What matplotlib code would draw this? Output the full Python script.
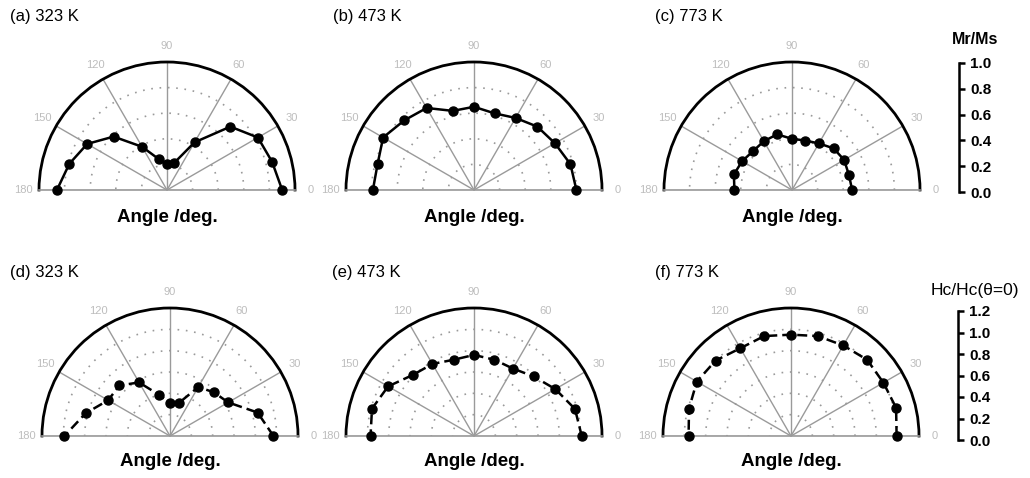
import matplotlib
matplotlib.use("Agg")
import matplotlib.pyplot as plt
import numpy as np

plt.rcParams['font.family'] = ['Liberation Sans', 'DejaVu Sans']

# angles (deg) measured every 15 degrees
angles = [0, 15, 30, 45, 60, 75, 90, 105, 120, 135, 150, 165, 180]

# Mr/Ms (top row)
mr_323 = [0.90, 0.85, 0.82, 0.70, 0.43, 0.22, 0.20, 0.25, 0.39, 0.59, 0.72, 0.79, 0.86]
mr_473 = [0.80, 0.78, 0.73, 0.70, 0.65, 0.62, 0.65, 0.64, 0.74, 0.77, 0.82, 0.78, 0.79]
mr_773 = [0.47, 0.46, 0.47, 0.46, 0.42, 0.40, 0.40, 0.45, 0.44, 0.43, 0.45, 0.47, 0.45]

# Hc/Hc(theta=0) (bottom row)
hc_323 = [0.97, 0.85, 0.63, 0.58, 0.53, 0.32, 0.31, 0.40, 0.58, 0.67, 0.67, 0.82, 0.99]
hc_473 = [1.01, 0.98, 0.88, 0.79, 0.73, 0.74, 0.76, 0.74, 0.78, 0.81, 0.93, 0.99, 0.97]
hc_773 = [0.99, 1.02, 1.00, 1.01, 0.98, 0.97, 0.95, 0.97, 0.95, 1.00, 1.02, 0.99, 0.96]

titles_top = ['(a) 323 K', '(b) 473 K', '(c) 773 K']
titles_bot = ['(d) 323 K', '(e) 473 K', '(f) 773 K']

W, H = 1030, 478
fig = plt.figure(figsize=(W / 100, H / 100), dpi=100)
R = 128
GRAY = '#9a9a9a'
LABGRAY = '#bdbdbd'


def half_polar(cx, cy, rmax, rgrid, values, dashed):
    # a half-disk polar axes is squared up around the wedge, so use a 2R x 2R box
    ax = fig.add_axes([(cx - R) / W, (H - cy - R / 2) / H, 2 * R / W, 2 * R / H],
                      projection='polar')
    ax.set_thetamin(0)
    ax.set_thetamax(180)
    ax.set_ylim(0, rmax)
    ax.set_thetagrids([0, 30, 60, 90, 120, 150, 180],
                      ['0', '30', '60', '90', '120', '150', '180'],
                      color=LABGRAY, fontsize=8)
    ax.tick_params(axis='x', pad=1)
    ax.set_rgrids(rgrid, labels=[''] * len(rgrid))
    ax.xaxis.grid(True, color=GRAY, lw=1.0, ls='-')
    ax.yaxis.grid(True, color=GRAY, lw=1.2, ls=(0, (1, 4)))
    ax.spines['polar'].set_linewidth(2.0)
    ax.spines['polar'].set_color('black')
    ax.spines['start'].set_color(GRAY)
    ax.spines['end'].set_color(GRAY)
    ax.spines['start'].set_linewidth(1.2)
    ax.spines['end'].set_linewidth(1.2)
    ax.spines['inner'].set_visible(False)
    th = np.radians(angles)
    ls = (0, (4, 2)) if dashed else '-'
    ax.plot(th, values, color='black', lw=1.8, ls=ls, marker='o', ms=6.5,
            clip_on=False, zorder=5)
    return ax


top_cx = [167, 474, 792]
top_cy = 190
bot_cx = [170, 474, 791]
bot_cy = 436

for cx, vals, t, tx in zip(top_cx, [mr_323, mr_473, mr_773], titles_top, [10, 333, 655]):
    half_polar(cx, top_cy, 1.0, [0.2, 0.4, 0.6, 0.8], vals, False)
    fig.text(tx / W, 1 - 17 / H, t, fontsize=12, va='center', ha='left')
    fig.text(cx / W, 1 - 217 / H, 'Angle /deg.', fontsize=13.5, fontweight='bold',
             va='center', ha='center')

for cx, vals, t, tx in zip(bot_cx, [hc_323, hc_473, hc_773], titles_bot, [10, 332, 655]):
    half_polar(cx, bot_cy, 1.2, [0.2, 0.4, 0.6, 0.8, 1.0], vals, True)
    fig.text(tx / W, 1 - 273 / H, t, fontsize=12, va='center', ha='left')
    fig.text(cx / W, 1 - 462 / H, 'Angle /deg.', fontsize=13.5, fontweight='bold',
             va='center', ha='center')


def scale_bar(x, ytop, ybot, vmax, ticks, label, ly, lsize, lweight):
    ax = fig.add_axes([x / W, (H - ybot) / H, 0.0001, (ybot - ytop) / H])
    ax.set_ylim(0, vmax)
    ax.set_xticks([])
    for s in ['left', 'top', 'bottom']:
        ax.spines[s].set_visible(False)
    ax.spines['right'].set_linewidth(1.8)
    ax.yaxis.set_ticks_position('right')
    ax.set_yticks(ticks)
    ax.set_yticklabels(['%.1f' % v for v in ticks], fontsize=11, fontweight='bold')
    ax.tick_params(axis='y', direction='out', length=4, width=1.8, pad=4)
    fig.text(975 / W, 1 - ly / H, label, fontsize=lsize, fontweight=lweight,
             ha='center', va='center')


scale_bar(959, 63, 192, 1.0, [0.0, 0.2, 0.4, 0.6, 0.8, 1.0], 'Mr/Ms', 40, 11.5, 'bold')
scale_bar(958, 311, 440, 1.2, [0.0, 0.2, 0.4, 0.6, 0.8, 1.0, 1.2], 'Hc/Hc(θ=0)', 291,
          12.5, 'normal')

fig.savefig('out.png', dpi=100)
